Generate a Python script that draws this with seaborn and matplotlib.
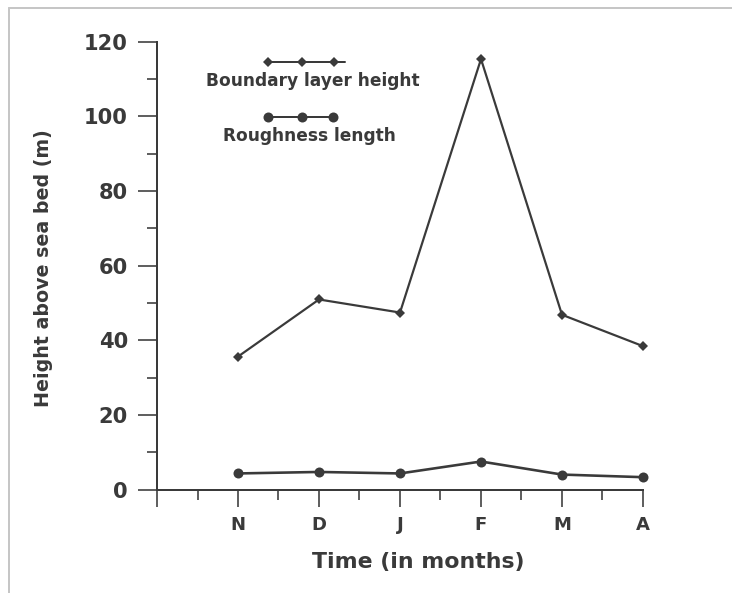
import numpy as np
import pandas as pd
import matplotlib
matplotlib.use("Agg")
import matplotlib.pyplot as plt
import seaborn as sns
from matplotlib.ticker import FixedLocator, MultipleLocator, FuncFormatter
from matplotlib.lines import Line2D
from matplotlib.offsetbox import DrawingArea, TextArea, AnchoredOffsetbox

# Monthly series
months = ["N", "D", "J", "F", "M", "A"]
boundary_layer = [35.6, 50.9, 47.4, 115.3, 46.8, 38.4]
roughness = [4.3, 4.7, 4.3, 7.5, 4.0, 3.3]
yticks = [0, 20, 40, 60, 80, 100, 120]

ink = "#3a3a3a"
font = "DejaVu Sans"

sns.set_theme(style="white")
plt.rcParams["font.family"] = [font]
plt.rcParams["font.weight"] = "bold"

pos = np.arange(len(months))
df = pd.DataFrame({
    "pos": np.concatenate([pos, pos]),
    "height": boundary_layer + roughness,
    "series": ["Boundary layer height"] * len(months) + ["Roughness length"] * len(months),
})

fig = plt.figure(figsize=(732 / 72, 593 / 72), dpi=72)
ax = fig.add_axes([157 / 732, 1 - 489.5 / 593, (643 - 157) / 732, (489.5 - 41.5) / 593])

sns.lineplot(data=df[df.series == "Boundary layer height"], x="pos", y="height",
             ax=ax, color=ink, lw=2.2, marker="D", markersize=7,
             markeredgewidth=0, markerfacecolor=ink, legend=False, clip_on=False)
sns.lineplot(data=df[df.series == "Roughness length"], x="pos", y="height",
             ax=ax, color=ink, lw=2.6, marker="o", markersize=10,
             markeredgewidth=0, markerfacecolor=ink, legend=False, clip_on=False)

ax.set_xlim(-1, len(months) - 1)
ax.set_ylim(0, 120)

# axes frame: left and bottom only
for side in ("top", "right"):
    ax.spines[side].set_visible(False)
for side in ("left", "bottom"):
    ax.spines[side].set_color(ink)
    ax.spines[side].set_linewidth(2.0)

ax.xaxis.set_major_locator(FixedLocator(np.arange(-1, len(months))))
ax.xaxis.set_major_formatter(FuncFormatter(lambda v, p: months[int(round(v))] if 0 <= round(v) < len(months) else ""))
ax.xaxis.set_minor_locator(FixedLocator(np.arange(-0.5, len(months) - 1, 1.0)))
ax.yaxis.set_major_locator(FixedLocator(yticks))
ax.yaxis.set_minor_locator(MultipleLocator(10))

ax.tick_params(axis="y", which="major", direction="out", length=19, width=1.6,
               color=ink, pad=10, labelsize=21, labelcolor=ink, left=True)
ax.tick_params(axis="y", which="minor", direction="out", length=10, width=1.6,
               color=ink, left=True)
ax.tick_params(axis="x", which="major", direction="out", length=17, width=1.6,
               color=ink, pad=10, labelsize=18, labelcolor=ink, bottom=True)
ax.tick_params(axis="x", which="minor", direction="out", length=10, width=1.6,
               color=ink, bottom=True)
for lab in ax.get_xticklabels() + ax.get_yticklabels():
    lab.set_fontweight("bold")

ax.set_xlabel("Time (in months)", fontsize=22, fontweight="bold", color=ink)
ax.xaxis.set_label_coords((418 - 157) / 486, -(562 - 489.5) / 448)
ax.xaxis.label.set_verticalalignment("center")
ax.set_ylabel("Height above sea bed (m)", fontsize=19, fontweight="bold", color=ink)
ax.yaxis.set_label_coords(-(157 - 43) / 486, 0.495)
ax.yaxis.label.set_verticalalignment("center")


def key_box(marker, msize, lw, span, offsets, cx, cy):
    da = DrawingArea(span, 12, 0, 0, clip=False)
    da.add_artist(Line2D([0, span], [6, 6], color=ink, lw=lw))
    da.add_artist(Line2D(offsets, [6] * len(offsets), ls="", marker=marker,
                         markersize=msize, color=ink, markeredgewidth=0))
    box = AnchoredOffsetbox(loc="center", child=da, pad=0, borderpad=0, frameon=False,
                            bbox_to_anchor=(cx / 732, 1 - cy / 593),
                            bbox_transform=fig.transFigure)
    fig.add_artist(box)


def key_text(label, cx, cy):
    ta = TextArea(label, textprops=dict(fontsize=17, fontweight="bold", color=ink,
                                        family=font))
    box = AnchoredOffsetbox(loc="center", child=ta, pad=0, borderpad=0, frameon=False,
                            bbox_to_anchor=(cx / 732, 1 - cy / 593),
                            bbox_transform=fig.transFigure)
    fig.add_artist(box)


key_box("D", 7, 2.0, 77, [0, 34, 66], 306.5, 62)
key_text("Boundary layer height", 313, 81)
key_box("o", 10, 2.0, 65, [0, 34, 65], 300.5, 117)
key_text("Roughness length", 309, 136)

# thin grey frame along the top and left edges of the canvas
fig.add_artist(Line2D([9 / 732, 1.0], [1 - 8 / 593, 1 - 8 / 593], transform=fig.transFigure,
                      color="#c6c6c6", lw=2))
fig.add_artist(Line2D([9 / 732, 9 / 732], [0.0, 1 - 8 / 593], transform=fig.transFigure,
                      color="#c6c6c6", lw=2))

fig.savefig("out.png", dpi=72, facecolor="white")
